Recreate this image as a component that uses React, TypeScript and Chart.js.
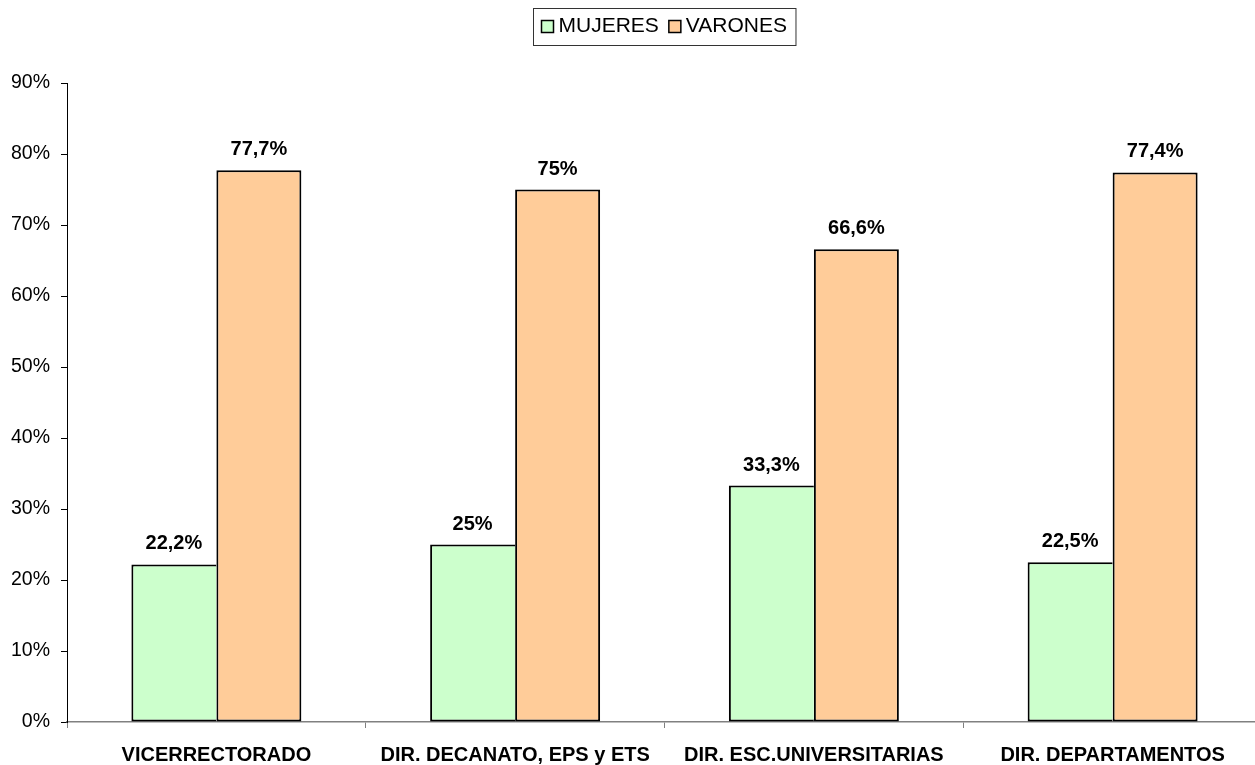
import React, { useEffect, useRef } from "react";
import { Chart, registerables } from "chart.js";

Chart.register(...registerables);

const categories = [
  "VICERRECTORADO",
  "DIR. DECANATO, EPS y ETS",
  "DIR. ESC.UNIVERSITARIAS",
  "DIR. DEPARTAMENTOS",
];
const mujeres = [22.2, 25, 33.3, 22.5];
const varones = [77.7, 75, 66.6, 77.4];
const seriesNames = ["MUJERES", "VARONES"];
const seriesColors = ["#CCFFCC", "#FFCC99"];

const FONT = "Arial, 'Liberation Sans', sans-serif";

const fmt = (v: number) => String(v).replace(".", ",") + "%";

const dataLabelPlugin = {
  id: "dataLabels",
  afterDatasetsDraw(chart: any) {
    const ctx = chart.ctx;
    ctx.save();
    ctx.font = `bold 20px ${FONT}`;
    ctx.fillStyle = "#000";
    ctx.textAlign = "center";
    ctx.textBaseline = "alphabetic";
    chart.data.datasets.forEach((ds: any, i: number) => {
      const meta = chart.getDatasetMeta(i);
      meta.data.forEach((bar: any, j: number) => {
        ctx.fillText(fmt(ds.data[j]), bar.x, bar.y - 15);
      });
    });
    ctx.restore();
  },
};

const legendPlugin = {
  id: "boxLegend",
  afterDraw(chart: any) {
    const ctx = chart.ctx;
    const ca = chart.chartArea;
    ctx.save();
    ctx.font = `21px ${FONT}`;
    const sq = 12;
    const gapSqText = 5;
    const gapItems = 10;
    const padL = 7;
    const padR = 10;
    const widths = seriesNames.map((n) => ctx.measureText(n).width);
    const total =
      padL +
      padR +
      widths.reduce((a, b) => a + b, 0) +
      seriesNames.length * (sq + gapSqText) +
      gapItems * (seriesNames.length - 1);
    const cx = (ca.left + ca.right) / 2;
    const left = Math.round(cx - total / 2) + 0.5;
    const top = 8.5;
    const h = 37;
    ctx.strokeStyle = "#333";
    ctx.lineWidth = 1;
    ctx.strokeRect(left, top, total, h);
    let x = Math.round(left + padL) + 0.5;
    const baseline = 32;
    seriesNames.forEach((n, i) => {
      ctx.fillStyle = seriesColors[i];
      ctx.fillRect(x, 20.5, sq, sq);
      ctx.strokeStyle = "#000";
      ctx.lineWidth = 1.5;
      ctx.strokeRect(x, 20.5, sq, sq);
      x += sq + gapSqText;
      ctx.fillStyle = "#000";
      ctx.textBaseline = "alphabetic";
      ctx.textAlign = "left";
      ctx.fillText(n, x, baseline);
      x += widths[i] + gapItems;
    });
    ctx.restore();
  },
};

export default function App() {
  const ref = useRef<HTMLCanvasElement>(null);
  useEffect(() => {
    if (!ref.current) return;
    const chart = new Chart(ref.current, {
      type: "bar",
      data: {
        labels: categories,
        datasets: [
          {
            label: seriesNames[0],
            data: mujeres,
            backgroundColor: seriesColors[0],
            borderColor: "#000",
            borderWidth: 2,
            borderSkipped: "right",
            categoryPercentage: 0.569,
            barPercentage: 1,
          },
          {
            label: seriesNames[1],
            data: varones,
            backgroundColor: seriesColors[1],
            borderColor: "#000",
            borderWidth: 2,
            borderSkipped: false,
            categoryPercentage: 0.569,
            barPercentage: 1,
          },
        ],
      },
      options: {
        animation: false,
        responsive: false,
        devicePixelRatio: 1,
        layout: { padding: { top: 83, left: 0, right: 1, bottom: 0 } },
        plugins: {
          legend: { display: false },
          tooltip: { enabled: false },
        },
        scales: {
          x: {
            afterFit: (s: any) => {
              s.height = 43;
            },
            grid: {
              drawOnChartArea: false,
              drawTicks: true,
              tickLength: 6,
              color: "#808080",
              offset: true,
            },
            border: { color: "#808080", width: 1.5 },
            ticks: {
              color: "#000",
              padding: 15,
              font: { family: FONT, size: 20, weight: "bold" },
              maxRotation: 0,
              autoSkip: false,
            },
          },
          y: {
            min: 0,
            max: 90,
            afterFit: (s: any) => {
              s.width = 67;
            },
            grid: {
              drawOnChartArea: false,
              drawTicks: true,
              tickLength: 6,
              color: "#000",
            },
            border: { color: "#000", width: 1 },
            ticks: {
              stepSize: 10,
              color: "#000",
              padding: 11,
              font: { family: FONT, size: 19.5 },
              callback: (v: any) => v + "%",
            },
          },
        },
      },
      plugins: [dataLabelPlugin, legendPlugin],
    });
    return () => chart.destroy();
  }, []);
  return (
    <div
      style={{
        position: "absolute",
        left: 0,
        top: 0,
        width: 1255,
        height: 765,
        overflow: "hidden",
        background: "#fff",
      }}
    >
      <canvas ref={ref} width={1263} height={765} style={{ display: "block" }} />
    </div>
  );
}
